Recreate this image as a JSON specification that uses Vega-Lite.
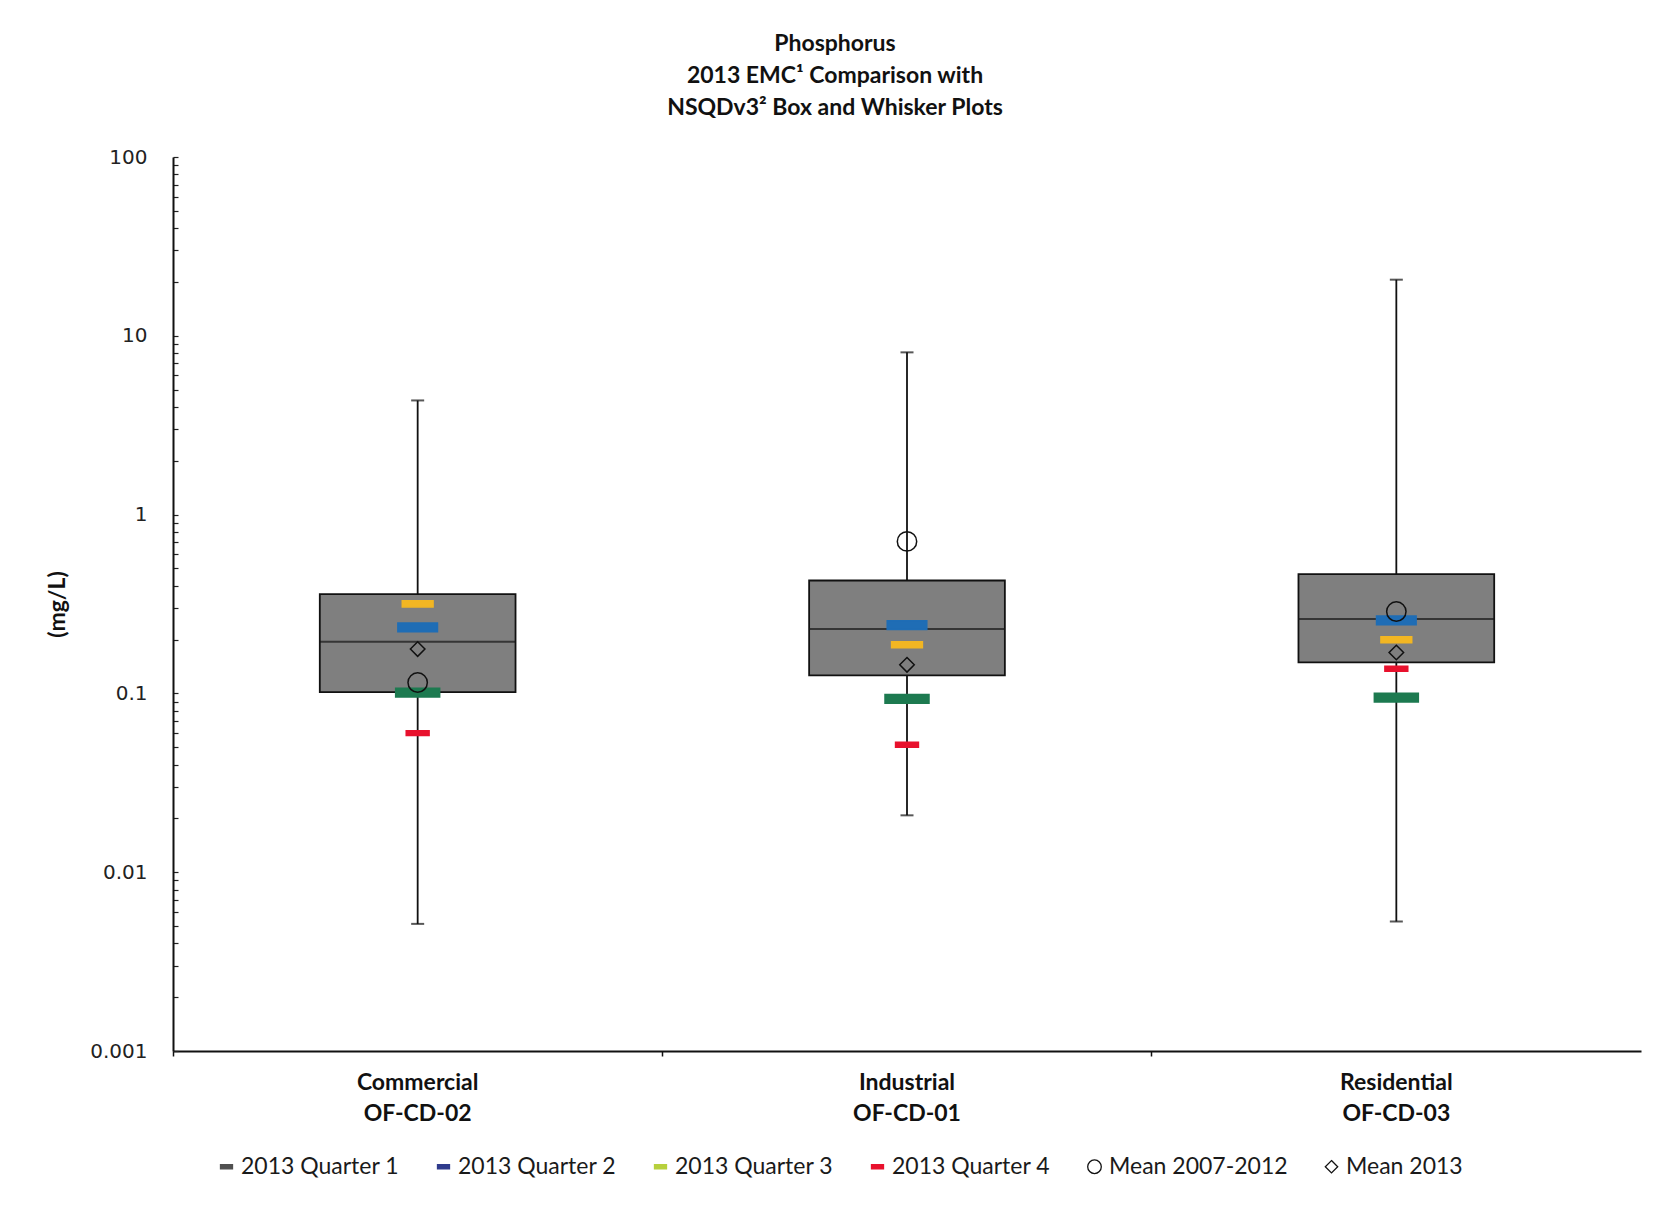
{
  "$schema": "https://vega.github.io/schema/vega-lite/v6.json",
  "width": 1468,
  "height": 894,
  "autosize": {"type": "none"},
  "padding": {"left": 173, "top": 157, "right": 24, "bottom": 158},
  "background": "white",
  "title": {
    "text": ["Phosphorus", "2013 EMC¹ Comparison with", "NSQDv3² Box and Whisker Plots"],
    "font": "Lato",
    "fontSize": 23,
    "fontWeight": "bold",
    "lineHeight": 32,
    "color": "#111111",
    "anchor": "middle",
    "frame": "group",
    "dx": -72,
    "offset": 27
  },
  "datasets": {
    "boxes": [
      {"site": "Commercial OF-CD-02", "min": 0.00514, "q1": 0.1016, "median": 0.1945, "q3": 0.359, "max": 4.35},
      {"site": "Industrial OF-CD-01", "min": 0.0208, "q1": 0.126, "median": 0.229, "q3": 0.428, "max": 8.08},
      {"site": "Residential OF-CD-03", "min": 0.0053, "q1": 0.149, "median": 0.261, "q3": 0.465, "max": 20.6}
    ],
    "points": [
      {"site": "Commercial OF-CD-02", "series": "2013 Quarter 1", "value": 0.101},
      {"site": "Commercial OF-CD-02", "series": "2013 Quarter 2", "value": 0.234},
      {"site": "Commercial OF-CD-02", "series": "2013 Quarter 3", "value": 0.317},
      {"site": "Commercial OF-CD-02", "series": "2013 Quarter 4", "value": 0.060},
      {"site": "Commercial OF-CD-02", "series": "Mean 2007-2012", "value": 0.115},
      {"site": "Commercial OF-CD-02", "series": "Mean 2013", "value": 0.177},
      {"site": "Industrial OF-CD-01", "series": "2013 Quarter 1", "value": 0.0933},
      {"site": "Industrial OF-CD-01", "series": "2013 Quarter 2", "value": 0.241},
      {"site": "Industrial OF-CD-01", "series": "2013 Quarter 3", "value": 0.187},
      {"site": "Industrial OF-CD-01", "series": "2013 Quarter 4", "value": 0.0516},
      {"site": "Industrial OF-CD-01", "series": "Mean 2007-2012", "value": 0.708},
      {"site": "Industrial OF-CD-01", "series": "Mean 2013", "value": 0.1445},
      {"site": "Residential OF-CD-03", "series": "2013 Quarter 1", "value": 0.0948},
      {"site": "Residential OF-CD-03", "series": "2013 Quarter 2", "value": 0.256},
      {"site": "Residential OF-CD-03", "series": "2013 Quarter 3", "value": 0.1995},
      {"site": "Residential OF-CD-03", "series": "2013 Quarter 4", "value": 0.1374},
      {"site": "Residential OF-CD-03", "series": "Mean 2007-2012", "value": 0.287},
      {"site": "Residential OF-CD-03", "series": "Mean 2013", "value": 0.1694}
    ]
  },
  "encoding": {
    "x": {
      "field": "site",
      "type": "nominal",
      "sort": null,
      "scale": {"paddingInner": 0, "paddingOuter": 0},
      "axis": {
        "title": null,
        "labelAngle": 0,
        "labelExpr": "[split(datum.label, ' ')[0], split(datum.label, ' ')[1]]",
        "labelFont": "Lato",
        "labelFontSize": 23,
        "labelFontWeight": "bold",
        "labelLineHeight": 31,
        "labelColor": "#111111",
        "labelPadding": 15,
        "labelBaseline": "top",
        "bandPosition": 0,
        "tickSize": 5,
        "tickWidth": 1.5,
        "tickColor": "#111111",
        "domainColor": "#111111",
        "domainWidth": 2,
        "grid": false
      }
    }
  },
  "layer": [
    {
      "data": {"name": "boxes"},
      "mark": {"type": "rule", "color": "#111111", "strokeWidth": 1.8},
      "encoding": {
        "y": {
          "field": "min",
          "type": "quantitative",
          "title": "(mg/L)",
          "scale": {"type": "log", "domain": [0.001, 100], "nice": false},
          "axis": {
            "titleFont": "Lato",
            "titleFontSize": 23,
            "titleFontWeight": "bold",
            "titleColor": "#111111",
            "titleX": -104,
            "values": [0.001, 0.002, 0.003, 0.004, 0.005, 0.006, 0.007, 0.008, 0.009,
                       0.01, 0.02, 0.03, 0.04, 0.05, 0.06, 0.07, 0.08, 0.09,
                       0.1, 0.2, 0.3, 0.4, 0.5, 0.6, 0.7, 0.8, 0.9,
                       1, 2, 3, 4, 5, 6, 7, 8, 9,
                       10, 20, 30, 40, 50, 60, 70, 80, 90, 100],
            "format": "~g",
            "labelExpr": "abs(log(datum.value) / LN10 - round(log(datum.value) / LN10)) < 0.000001 ? datum.label : ''",
            "labelOverlap": false,
            "labelFlush": false,
            "labelFont": "DejaVu Sans",
            "labelFontSize": 20,
            "labelColor": "#222222",
            "labelPadding": 31,
            "tickSize": -5,
            "tickWidth": 1.2,
            "tickColor": "#222222",
            "domainColor": "#111111",
            "domainWidth": 2,
            "grid": false
          }
        },
        "y2": {"field": "max"}
      }
    },
    {
      "data": {"name": "boxes"},
      "mark": {"type": "tick", "color": "#111111", "size": 13, "thickness": 2},
      "encoding": {
        "y": {"field": "min", "type": "quantitative", "title": "(mg/L)"}
      }
    },
    {
      "data": {"name": "boxes"},
      "mark": {"type": "tick", "color": "#111111", "size": 13, "thickness": 2},
      "encoding": {
        "y": {"field": "max", "type": "quantitative", "title": "(mg/L)"}
      }
    },
    {
      "data": {"name": "boxes"},
      "mark": {"type": "bar", "fill": "#7f7f7f", "stroke": "#111111", "strokeWidth": 1.8, "width": {"band": 0.4}},
      "encoding": {
        "y": {"field": "q1", "type": "quantitative", "title": "(mg/L)"},
        "y2": {"field": "q3"}
      }
    },
    {
      "data": {"name": "boxes"},
      "mark": {"type": "tick", "color": "#151515", "size": 196, "thickness": 2},
      "encoding": {
        "y": {"field": "median", "type": "quantitative", "title": "(mg/L)"}
      }
    },
    {
      "data": {"name": "points"},
      "mark": {"type": "point", "size": 1936, "filled": true, "opacity": 1, "fillOpacity": 1, "strokeWidth": 1.5},
      "encoding": {
        "y": {"field": "value", "type": "quantitative", "title": "(mg/L)"},
        "shape": {
          "field": "series",
          "type": "nominal",
          "scale": {
            "domain": ["2013 Quarter 1", "2013 Quarter 2", "2013 Quarter 3", "2013 Quarter 4", "Mean 2007-2012", "Mean 2013"],
            "range": [
              "M-1,-0.2H1V0.2H-1Z",
              "M-0.9,-0.2H0.9V0.2H-0.9Z",
              "M-0.7,-0.14H0.7V0.14H-0.7Z",
              "M-0.52,-0.11H0.52V0.11H-0.52Z",
              "M-0.44,0A0.44,0.44,0,1,0,0.44,0A0.44,0.44,0,1,0,-0.44,0Z",
              "M0,-0.33L0.33,0L0,0.33L-0.33,0Z"
            ]
          },
          "legend": null
        },
        "fill": {
          "field": "series",
          "type": "nominal",
          "scale": {
            "domain": ["2013 Quarter 1", "2013 Quarter 2", "2013 Quarter 3", "2013 Quarter 4", "Mean 2007-2012", "Mean 2013"],
            "range": ["#1d7a50", "#1f6db5", "#f2b623", "#e8112d", "transparent", "transparent"]
          },
          "legend": null
        },
        "stroke": {
          "field": "series",
          "type": "nominal",
          "scale": {
            "domain": ["2013 Quarter 1", "2013 Quarter 2", "2013 Quarter 3", "2013 Quarter 4", "Mean 2007-2012", "Mean 2013"],
            "range": ["#1d7a50", "#1f6db5", "#f2b623", "#e8112d", "#111111", "#111111"]
          },
          "legend": null
        }
      }
    },
    {
      "data": {"name": "points"},
      "mark": {"type": "point", "size": 400, "filled": true, "opacity": 0, "strokeWidth": 1.3},
      "encoding": {
        "y": {"field": "value", "type": "quantitative", "title": "(mg/L)"},
        "shape": {
          "field": "series",
          "type": "nominal",
          "scale": {
            "domain": ["2013 Quarter 1", "2013 Quarter 2", "2013 Quarter 3", "2013 Quarter 4", "Mean 2007-2012", "Mean 2013"],
            "range": [
              "M-0.6,-0.22H0.6V0.22H-0.6Z",
              "M-0.6,-0.22H0.6V0.22H-0.6Z",
              "M-0.6,-0.22H0.6V0.22H-0.6Z",
              "M-0.6,-0.22H0.6V0.22H-0.6Z",
              "M-0.68,0A0.68,0.68,0,1,0,0.68,0A0.68,0.68,0,1,0,-0.68,0Z",
              "M0,-0.62L0.62,0L0,0.62L-0.62,0Z"
            ]
          },
          "legend": {"title": null}
        },
        "fill": {
          "field": "series",
          "type": "nominal",
          "scale": {
            "domain": ["2013 Quarter 1", "2013 Quarter 2", "2013 Quarter 3", "2013 Quarter 4", "Mean 2007-2012", "Mean 2013"],
            "range": ["#505050", "#2f3b8c", "#b7d03c", "#e8112d", "transparent", "transparent"]
          },
          "legend": {"title": null}
        },
        "stroke": {
          "field": "series",
          "type": "nominal",
          "scale": {
            "domain": ["2013 Quarter 1", "2013 Quarter 2", "2013 Quarter 3", "2013 Quarter 4", "Mean 2007-2012", "Mean 2013"],
            "range": ["#505050", "#2f3b8c", "#b7d03c", "#e8112d", "#111111", "#111111"]
          },
          "legend": {"title": null}
        }
      }
    }
  ],
  "resolve": {"scale": {"shape": "independent", "fill": "independent", "stroke": "independent"}},
  "config": {
    "view": {"stroke": null},
    "axis": {"labelFont": "Lato"},
    "legend": {
      "orient": "none",
      "legendX": 42,
      "legendY": 998,
      "direction": "horizontal",
      "columns": 6,
      "symbolSize": 400,
      "symbolOpacity": 1,
      "symbolStrokeWidth": 1.3,
      "labelFont": "Lato",
      "labelFontSize": 23,
      "labelColor": "#1a1a1a",
      "labelLimit": 400,
      "labelOffset": 3,
      "columnPadding": 32
    }
  }
}
